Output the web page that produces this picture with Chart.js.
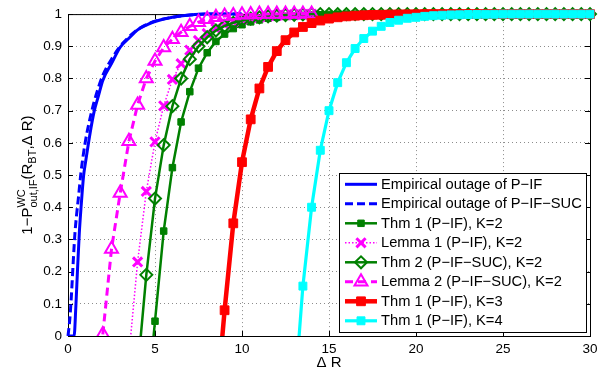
<!DOCTYPE html>
<html>
<head>
<meta charset="utf-8">
<script src="https://cdn.jsdelivr.net/npm/chart.js@4/dist/chart.umd.min.js"></script>
<style>
  body { margin: 0; background: #fff; }
  canvas { display: block; }
</style>
</head>
<body>
<canvas id="myChart" width="611" height="380"></canvas>
<script>
// tick values
const xTicks = [0, 5, 10, 15, 20, 25, 30];
const yTicks = [0, 0.1, 0.2, 0.3, 0.4, 0.5, 0.6, 0.7, 0.8, 0.9, 1];

// Delta R grid used by the marker curves
const gridR = [0, 0.5, 1, 1.5, 2, 2.5, 3, 3.5, 4, 4.5, 5, 5.5, 6, 6.5, 7, 7.5, 8, 8.5, 9, 9.5,
    10, 10.5, 11, 11.5, 12, 12.5, 13, 13.5, 14, 14.5, 15, 15.5, 16, 16.5, 17, 17.5, 18, 18.5, 19, 19.5,
    20, 20.5, 21, 21.5, 22, 22.5, 23, 23.5, 24, 24.5, 25, 25.5, 26, 26.5, 27, 27.5, 28, 28.5, 29, 29.5, 30];

const seriesNames = [
    'Empirical outage of P\u2212IF',
    'Empirical outage of P\u2212IF\u2212SUC',
    'Thm 1 (P\u2212IF), K=2',
    'Lemma 1 (P\u2212IF), K=2',
    'Thm 2 (P\u2212IF\u2212SUC), K=2',
    'Lemma 2 (P\u2212IF\u2212SUC), K=2',
    'Thm 1 (P\u2212IF), K=3',
    'Thm 1 (P\u2212IF), K=4'
];

// empirical curves (no markers)
const empIfX = [0, 0.35, 0.45, 0.55, 0.65, 0.75, 0.9, 1, 1.25, 1.5, 1.75, 2, 2.5, 3, 3.5, 4, 4.5, 5, 6, 7, 8, 10];
const empIfY = [0, 0, 0.09, 0.21, 0.32, 0.4, 0.5, 0.537, 0.624, 0.697, 0.746, 0.794, 0.846, 0.897, 0.925, 0.951, 0.966, 0.977, 0.99, 0.997, 1, 1];
const empSucX = [0, 0.1, 0.2, 0.3, 0.4, 0.5, 0.6, 0.75, 1, 1.25, 1.5, 1.75, 2, 2.5, 3, 3.5, 4, 4.5, 5, 6, 7, 8, 10];
const empSucY = [0, 0.05, 0.13, 0.23, 0.32, 0.38, 0.43, 0.51, 0.605, 0.672, 0.727, 0.772, 0.81, 0.86, 0.9, 0.929, 0.952, 0.967, 0.978, 0.99, 0.997, 1, 1];

// bound curves, each starts at a given Delta R and follows gridR
const thm1K2Start = 4.5;
const thm1K2 = [-0.24, 0.046, 0.326, 0.523, 0.665, 0.759, 0.832, 0.88, 0.915, 0.938, 0.955, 0.967, 0.976, 0.982, 0.987,
    0.99, 0.993, 0.995, 0.996, 0.997, 0.998, 0.999,
    1, 1, 1, 1, 1, 1, 1, 1, 1, 1, 1, 1, 1, 1, 1, 1, 1, 1, 1, 1, 1, 1, 1, 1, 1, 1, 1, 1, 1, 1];
const lemma1K2Start = 3.5;
const lemma1K2 = [-0.06, 0.23, 0.449, 0.603, 0.715, 0.797, 0.846, 0.888, 0.918, 0.94, 0.955, 0.967, 0.976, 0.983,
    0.988, 0.991, 0.994, 0.996, 0.997, 0.998, 0.999, 1];
const thm2K2Start = 4;
const thm2K2 = [-0.11, 0.19, 0.427, 0.593, 0.714, 0.8, 0.86, 0.9, 0.928, 0.949, 0.963, 0.973, 0.98, 0.986, 0.99,
    0.993, 0.995, 0.997, 0.998, 0.999,
    1, 1, 1, 1, 1, 1, 1, 1, 1, 1, 1, 1, 1, 1, 1, 1, 1, 1, 1, 1, 1, 1, 1, 1, 1, 1, 1, 1, 1, 1, 1, 1, 1];
const lemma2K2Start = 2;
const lemma2K2 = [0.005, 0.27, 0.444, 0.605, 0.718, 0.8, 0.854, 0.896, 0.922, 0.944, 0.962, 0.975, 0.984, 0.99,
    0.994, 0.996, 0.998, 0.999, 1, 1, 1, 1, 1, 1, 1];
const thm1K3Start = 8.5;
const thm1K3 = [-0.23, 0.08, 0.35, 0.54, 0.673, 0.769, 0.836, 0.885, 0.919, 0.943, 0.96, 0.972, 0.98, 0.986,
    0.99, 0.993, 0.995, 0.9965, 0.9975, 0.998, 0.9987, 0.999, 0.9993, 0.9995,
    1, 1, 1, 1, 1, 1, 1, 1, 1, 1, 1, 1, 1, 1, 1, 1, 1, 1, 1, 1];
const thm1K4Start = 13;
const thm1K4 = [-0.2, 0.155, 0.4, 0.577, 0.7, 0.787, 0.849, 0.893, 0.924, 0.947, 0.962, 0.974, 0.981, 0.987,
    0.99, 0.993, 0.995, 0.9965, 0.9975, 0.998, 0.9987, 0.999, 0.9993, 0.9995,
    1, 1, 1, 1, 1, 1, 1, 1, 1, 1, 1];

const FONT = "'Liberation Sans', Arial, Helvetica, sans-serif";
Chart.defaults.font.family = FONT;
Chart.defaults.color = '#000';

function pairs(xs, ys) {
    return ys.map((y, i) => ({ x: xs[i], y: y }));
}
function onGrid(start, ys) {
    const k = gridR.indexOf(start);
    return ys.map((y, i) => ({ x: gridR[k + i], y: y }));
}

const clipBox = { left: 10, right: 10, top: 10, bottom: 0 };

const datasets = [
    { label: seriesNames[0], data: pairs(empIfX, empIfY), borderColor: '#0000ff', borderWidth: 3,
      pointRadius: 0, cubicInterpolationMode: 'monotone' },
    { label: seriesNames[1], data: pairs(empSucX, empSucY), borderColor: '#0000ff', borderWidth: 3,
      borderDash: [8, 4], pointRadius: 0, cubicInterpolationMode: 'monotone' },
    { label: seriesNames[2], data: onGrid(thm1K2Start, thm1K2), borderColor: '#008000', borderWidth: 2.5,
      pointStyle: 'rect', pointRadius: 4.6, pointBackgroundColor: '#008000', pointBorderColor: '#008000', pointBorderWidth: 1 },
    { label: seriesNames[3], data: onGrid(lemma1K2Start, lemma1K2), borderColor: '#ff00ff', borderWidth: 1.5,
      borderDash: [1.5, 2], pointStyle: 'crossRot', pointRadius: 6.5, pointBorderColor: '#ff00ff', pointBorderWidth: 3 },
    { label: seriesNames[4], data: onGrid(thm2K2Start, thm2K2), borderColor: '#008000', borderWidth: 2.5,
      pointStyle: 'rectRot', pointRadius: 6, pointBackgroundColor: 'rgba(0,0,0,0)', pointBorderColor: '#008000', pointBorderWidth: 2 },
    { label: seriesNames[5], data: onGrid(lemma2K2Start, lemma2K2), borderColor: '#ff00ff', borderWidth: 3,
      borderDash: [8, 5], pointStyle: 'triangle', pointRadius: 7.5, pointBackgroundColor: 'rgba(0,0,0,0)', pointBorderColor: '#ff00ff', pointBorderWidth: 2 },
    { label: seriesNames[6], data: onGrid(thm1K3Start, thm1K3), borderColor: '#ff0000', borderWidth: 4.5,
      pointStyle: 'rect', pointRadius: 6.2, pointBackgroundColor: '#ff0000', pointBorderColor: '#ff0000', pointBorderWidth: 1 },
    { label: seriesNames[7], data: onGrid(thm1K4Start, thm1K4), borderColor: '#00ffff', borderWidth: 3.2,
      pointStyle: 'rect', pointRadius: 5.6, pointBackgroundColor: '#00ffff', pointBorderColor: '#00ffff', pointBorderWidth: 1 }
];
// matlab draws later curves on top
datasets.forEach((d, i) => {
    d.order = datasets.length - i;
    d.fill = false;
    d.clip = clipBox;
    d.tension = d.tension || 0;
});

// box, inward ticks
const framePlugin = {
    id: 'frame',
    beforeDatasetsDraw(chart) {
        const { ctx, chartArea: a, scales } = chart;
        ctx.save();
        ctx.strokeStyle = '#000';
        ctx.lineWidth = 1;
        ctx.strokeRect(a.left + 0.5, a.top + 0.5, a.right - a.left, a.bottom - a.top);
        ctx.beginPath();
        xTicks.forEach(v => {
            const px = Math.round(scales.x.getPixelForValue(v)) + 0.5;
            ctx.moveTo(px, a.bottom); ctx.lineTo(px, a.bottom - 5);
            ctx.moveTo(px, a.top); ctx.lineTo(px, a.top + 5);
        });
        yTicks.forEach(v => {
            const py = Math.round(scales.y.getPixelForValue(v)) + 0.5;
            ctx.moveTo(a.left, py); ctx.lineTo(a.left + 5, py);
            ctx.moveTo(a.right, py); ctx.lineTo(a.right - 5, py);
        });
        ctx.stroke();
        ctx.restore();
    }
};

function drawMarker(ctx, ds, x, y) {
    if (!ds.pointStyle || !ds.pointRadius) return;
    ctx.save();
    ctx.setLineDash([]);
    ctx.fillStyle = ds.pointBackgroundColor || 'rgba(0,0,0,0)';
    ctx.strokeStyle = ds.pointBorderColor;
    ctx.lineWidth = ds.pointBorderWidth;
    Chart.helpers.drawPoint(ctx, { pointStyle: ds.pointStyle, radius: ds.pointRadius, rotation: 0, borderWidth: ds.pointBorderWidth }, x, y);
    ctx.restore();
}

// axis titles and legend box
const textPlugin = {
    id: 'texts',
    afterDraw(chart) {
        const { ctx, chartArea: a } = chart;
        ctx.save();
        ctx.fillStyle = '#000';

        // x title
        ctx.font = '15px ' + FONT;
        ctx.textAlign = 'center';
        ctx.textBaseline = 'middle';
        ctx.fillText('\u0394 R', (a.left + a.right) / 2, 363);

        // y title with super/subscripts
        const big = '15px ' + FONT, small = '11px ' + FONT;
        const parts = [
            { t: '1\u2212P', f: big },
            { stack: ['WC', 'out,IF'], f: small },
            { t: '(R', f: big },
            { t: 'BT', f: small, dy: 4 },
            { t: ',\u0394 R)', f: big }
        ];
        let total = 0;
        parts.forEach(p => {
            ctx.font = p.f;
            p.w = p.stack ? Math.max(...p.stack.map(s => ctx.measureText(s).width)) : ctx.measureText(p.t).width;
            total += p.w;
        });
        ctx.translate(32, (a.top + a.bottom) / 2);
        ctx.rotate(-Math.PI / 2);
        ctx.textAlign = 'left';
        ctx.textBaseline = 'alphabetic';
        let cx = -total / 2;
        parts.forEach(p => {
            ctx.font = p.f;
            if (p.stack) {
                ctx.fillText(p.stack[0], cx, -7);
                ctx.fillText(p.stack[1], cx, 5);
            } else {
                ctx.fillText(p.t, cx, p.dy || 0);
            }
            cx += p.w;
        });
        ctx.restore();

        // legend
        const lx = 339, ly = 173, lw = 247, lh = 159;
        ctx.save();
        ctx.fillStyle = '#fff';
        ctx.fillRect(lx, ly, lw, lh);
        ctx.strokeStyle = '#000';
        ctx.lineWidth = 1;
        ctx.strokeRect(lx + 0.5, ly + 0.5, lw, lh);
        chart.data.datasets.forEach((ds, i) => {
            const yy = 184.3 + 19.5 * i;
            ctx.save();
            ctx.strokeStyle = ds.borderColor;
            ctx.lineWidth = ds.borderWidth;
            ctx.setLineDash(ds.borderDash || []);
            ctx.beginPath();
            ctx.moveTo(345, yy);
            ctx.lineTo(377, yy);
            ctx.stroke();
            ctx.restore();
            drawMarker(ctx, ds, 361, yy);
            ctx.fillStyle = '#000';
            ctx.font = '14.7px ' + FONT;
            ctx.textAlign = 'left';
            ctx.textBaseline = 'middle';
            ctx.fillText(ds.label, 381, yy + 0.5);
        });
        ctx.restore();
    }
};

const myChart = new Chart(document.getElementById('myChart'), {
    type: 'line',
    data: { datasets: datasets },
    options: {
        responsive: false,
        animation: false,
        events: [],
        layout: { padding: { left: 0, top: 11, right: 21, bottom: 0 } },
        plugins: { legend: { display: false }, tooltip: { enabled: false } },
        scales: {
            x: {
                type: 'linear', min: 0, max: 30,
                afterBuildTicks: s => { s.ticks = xTicks.map(v => ({ value: v })); },
                afterFit: s => { s.height = 44; },
                ticks: { font: { size: 13.5 }, padding: 5, maxRotation: 0, callback: v => String(v) },
                grid: { color: '#8c8c8c', lineWidth: 1, drawTicks: false },
                border: { display: false, dash: [1, 3] }
            },
            y: {
                type: 'linear', min: 0, max: 1,
                afterBuildTicks: s => { s.ticks = yTicks.map(v => ({ value: v })); },
                afterFit: s => { s.width = 68; },
                ticks: { font: { size: 13.5 }, padding: 6, callback: v => String(Math.round(v * 10) / 10) },
                grid: { color: '#8c8c8c', lineWidth: 1, drawTicks: false },
                border: { display: false, dash: [1, 3] }
            }
        }
    },
    plugins: [framePlugin, textPlugin]
});
</script>
</body>
</html>
